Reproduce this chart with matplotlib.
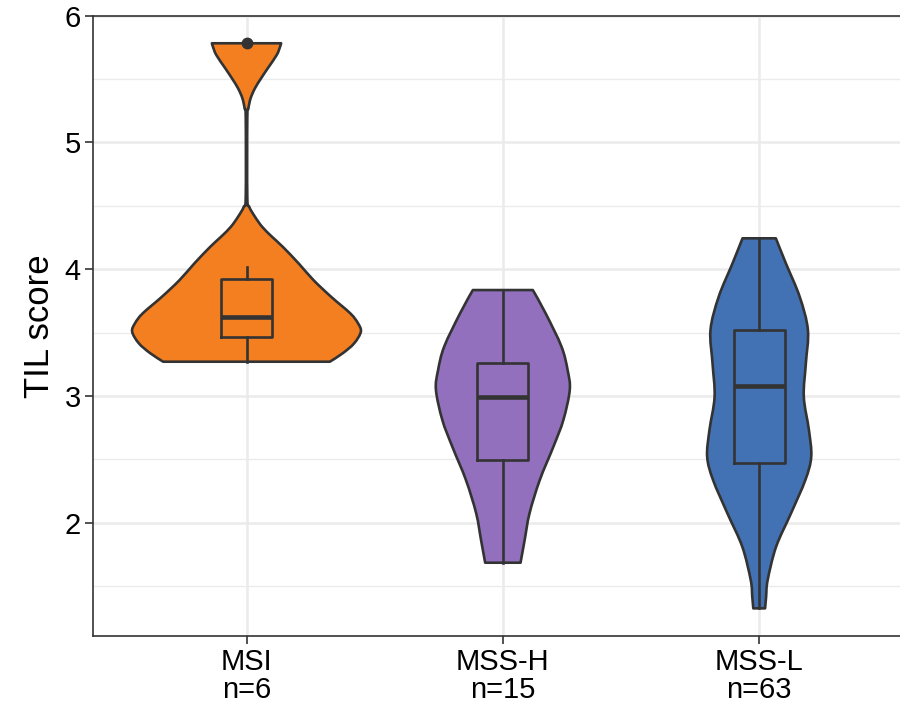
import matplotlib
matplotlib.use("Agg")
import matplotlib.pyplot as plt
from matplotlib.path import Path
from matplotlib.patches import PathPatch
import numpy as np

plt.rcParams['font.family'] = ['Liberation Sans', 'DejaVu Sans']

# ---- data ----
categories = ["MSI", "MSS-H", "MSS-L"]
counts = [6, 15, 63]
colors = ["#F47F20", "#9370BE", "#4272B4"]

# violin outline: y values and half-widths (category units)
msi_y = [5.781, 5.754, 5.689, 5.584, 5.505, 5.426, 5.347, 5.268, 5.189, 4.571, 4.492,
         4.413, 4.334, 4.256, 4.177, 4.046, 3.914, 3.782, 3.651, 3.573, 3.506, 3.415,
         3.336, 3.270]
msi_w = [0.135, 0.131, 0.118, 0.083, 0.057, 0.033, 0.016, 0.0074, 0.003, 0.003, 0.0105,
         0.033, 0.061, 0.099, 0.141, 0.203, 0.261, 0.330, 0.405, 0.435, 0.446, 0.420,
         0.375, 0.325]

mssh_y = [3.835, 3.651, 3.388, 3.200, 3.047, 2.810, 2.599, 2.337, 2.074, 1.863, 1.685]
mssh_w = [0.117, 0.167, 0.229, 0.253, 0.261, 0.236, 0.197, 0.144, 0.104, 0.085, 0.069]

mssl_y = [4.243, 4.046, 3.782, 3.520, 3.257, 2.994, 2.731, 2.521, 2.337, 2.074, 1.811,
          1.548, 1.416, 1.325]
mssl_w = [0.065, 0.104, 0.158, 0.190, 0.182, 0.174, 0.194, 0.203, 0.180, 0.124, 0.066,
          0.033, 0.027, 0.023]

# boxplot statistics
whisker_low = [3.270, 1.685, 1.325]
q1 = [3.467, 2.492, 2.471]
median = [3.620, 2.994, 3.078]
q3 = [3.920, 3.262, 3.520]
whisker_high = [4.014, 3.835, 4.243]
outliers = [[5.78], [], []]


def smooth_side(pts):
    """Bezier (Catmull-Rom) segments through the given outline points."""
    pts = np.asarray(pts, dtype=float)
    n = len(pts)
    verts, codes = [], []
    for i in range(n - 1):
        p0 = pts[max(i - 1, 0)]
        p1 = pts[i]
        p2 = pts[i + 1]
        p3 = pts[min(i + 2, n - 1)]
        c1 = p1 + (p2 - p0) / 6.0
        c2 = p2 - (p3 - p1) / 6.0
        verts += [tuple(c1), tuple(c2), tuple(p2)]
        codes += [Path.CURVE4] * 3
    return verts, codes


# ---- plotting ----
fig = plt.figure(figsize=(9.0, 7.09), dpi=100)
W, H = 900, 709
left, right, bottom, top = 92.7, 913.0, 636.0, 15.5
ax = fig.add_axes([left / W, 1 - bottom / H, (right - left) / W, (bottom - top) / H])

edge = "#333333"
profiles = [(msi_y, msi_w), (mssh_y, mssh_w), (mssl_y, mssl_w)]
positions = np.arange(1, len(categories) + 1)

for pos, (yy, ww), col in zip(positions, profiles, colors):
    yy = np.asarray(yy)
    ww = np.asarray(ww)
    left_side = np.column_stack([pos - ww, yy])            # top -> bottom
    right_side = np.column_stack([pos + ww, yy])[::-1]     # bottom -> top
    verts = [tuple(left_side[0])]
    codes = [Path.MOVETO]
    v, c = smooth_side(left_side)
    verts += v; codes += c
    verts.append(tuple(right_side[0])); codes.append(Path.LINETO)
    v, c = smooth_side(right_side)
    verts += v; codes += c
    verts.append(tuple(left_side[0])); codes.append(Path.CLOSEPOLY)
    patch = PathPatch(Path(verts, codes), facecolor=col, edgecolor=edge,
                      linewidth=1.9, zorder=3, joinstyle='round')
    ax.add_patch(patch)

stats = []
for i in range(len(categories)):
    stats.append(dict(med=median[i], q1=q1[i], q3=q3[i], whislo=whisker_low[i],
                      whishi=whisker_high[i], fliers=outliers[i]))
ax.bxp(stats, positions=positions, widths=0.2, showcaps=False, patch_artist=False,
       boxprops=dict(color=edge, linewidth=1.9),
       whiskerprops=dict(color=edge, linewidth=1.9),
       medianprops=dict(color=edge, linewidth=3.3, solid_capstyle='butt'),
       flierprops=dict(marker='o', markerfacecolor=edge, markeredgecolor=edge,
                       markersize=7.5),
       zorder=4)

ax.set_xlim(0.4, 3.6)
ax.set_ylim(1.107, 6.0)
ax.set_yticks([2, 3, 4, 5, 6])
ax.set_yticks([1.5, 2.5, 3.5, 4.5, 5.5], minor=True)
ax.set_xticks(positions)
ax.set_xticklabels([f"{c}\nn={n}" for c, n in zip(categories, counts)],
                   linespacing=1.03)
ax.tick_params(axis='both', which='major', labelsize=21, colors=edge,
               labelcolor='black', length=5.5, width=1.2)
ax.tick_params(axis='y', which='major', pad=3)
ax.tick_params(axis='x', which='major', pad=3)
ax.tick_params(axis='y', which='minor', length=0)
ax.grid(True, which='major', color='#EBEBEB', linewidth=1.8, zorder=0)
ax.grid(True, which='minor', axis='y', color='#EBEBEB', linewidth=1.0, zorder=0)
ax.set_axisbelow(True)
for s in ax.spines.values():
    s.set_color(edge)
    s.set_linewidth(1.2)

ax.set_ylabel("TIL score", fontsize=25, labelpad=6)
ax.set_xlabel("")

fig.savefig("out.png", dpi=100)
